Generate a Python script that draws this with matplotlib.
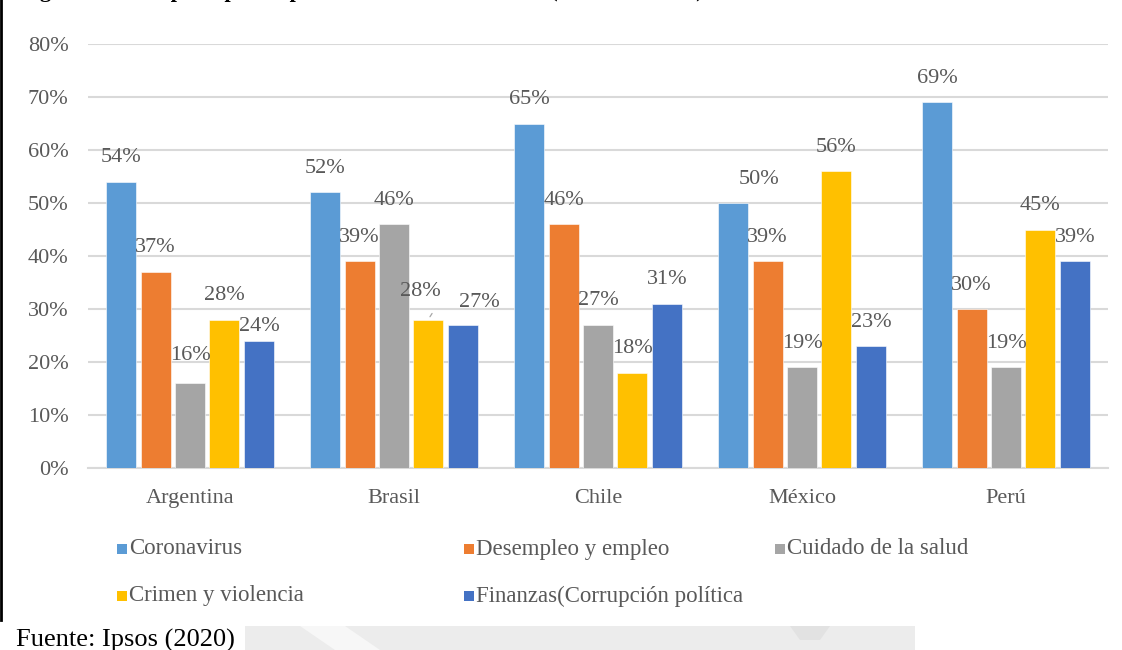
import matplotlib.pyplot as plt
import numpy as np
from matplotlib.patches import Rectangle, Polygon

plt.rcParams['font.family'] = ['Liberation Serif', 'DejaVu Serif']

# Datos por país (porcentaje de menciones)
paises = ['Argentina', 'Brasil', 'Chile', 'México', 'Perú']
series = ['Coronavirus', 'Desempleo y empleo', 'Cuidado de la salud',
          'Crimen y violencia', 'Finanzas(Corrupción política']
coronavirus = [54, 52, 65, 50, 69]
desempleo = [37, 39, 46, 39, 30]
salud = [16, 46, 27, 19, 19]
crimen = [28, 28, 18, 56, 45]
finanzas = [24, 27, 31, 23, 39]
valores = [coronavirus, desempleo, salud, crimen, finanzas]
colores = ['#5B9BD5', '#ED7D31', '#A5A5A5', '#FFC000', '#4472C4']

gris = '#595959'
W, H = 1122, 650

fig = plt.figure(figsize=(W / 100, H / 100), dpi=100)
ax = fig.add_axes([88 / W, 182 / H, 1020 / W, 424 / H])

x = np.arange(len(paises))
ancho = 0.147
paso = 0.169

# ajustes de etiquetas (px) donde Excel las desplazó
ajuste = {(1, 4): (16, -2), (1, 3): (-8, 4), (0, 4): (0, -10), (0, 2): (0, 4),
          (3, 0): (26, 0)}

for i, (serie, vals) in enumerate(zip(series, valores)):
    pos = x + (i - 2) * paso
    ax.bar(pos, np.array(vals) / 100, width=ancho, color=colores[i],
           edgecolor='white', linewidth=0.4, zorder=3)
    for j, v in enumerate(vals):
        dx, dy = ajuste.get((j, i), (0, 0))
        ax.annotate(f'{v}%', (pos[j], v / 100), xytext=(dx * 0.72, (24 + dy) * 0.72),
                    textcoords='offset points', ha='center', va='center',
                    fontsize=16, color=gris, zorder=4)
        if (j, i) == (1, 3):
            # línea guía de la etiqueta desplazada
            ax.annotate('', (pos[j], v / 100 + 0.001),
                        xytext=(pos[j] + 0.025, v / 100 + 0.016),
                        arrowprops=dict(arrowstyle='-', color='#a6a6a6', lw=0.9))

ax.set_xlim(-0.5, 4.5)
ax.set_ylim(0, 0.8)
ax.set_yticks(np.arange(0, 0.81, 0.1))
ax.set_yticklabels([f'{int(round(t * 100))}%' for t in np.arange(0, 0.81, 0.1)])
ax.set_xticks(x)
ax.set_xticklabels(paises)
ax.tick_params(axis='y', length=0, pad=14, labelsize=16, labelcolor=gris)
ax.tick_params(axis='x', length=0, pad=15, labelsize=16, labelcolor=gris)
ax.grid(axis='y', color='#d9d9d9', linewidth=1.5, zorder=0)
for lado in ['top', 'right', 'left']:
    ax.spines[lado].set_visible(False)
ax.spines['bottom'].set_color('#d9d9d9')
ax.spines['bottom'].set_linewidth(1.5)

# leyenda dibujada a mano en dos filas
cols_x = [117, 464, 775]
filas_y = [549, 596]
for k, serie in enumerate(series):
    cx = cols_x[k % 3]
    cy = filas_y[k // 3]
    fig.add_artist(Rectangle((cx / W, 1 - (cy + 5) / H), 10 / W, 10 / H,
                             transform=fig.transFigure, color=colores[k], lw=0))
    fig.text((cx + 12) / W, 1 - cy / H, serie, fontsize=16.5, color=gris,
             ha='left', va='center')

# marca de agua al pie
fig.add_artist(Rectangle((245 / W, 0), 670 / W, 24 / H, transform=fig.transFigure,
                         color='#ececec', lw=0, zorder=0))
fig.add_artist(Polygon([(300 / W, 24 / H), (345 / W, 24 / H), (380 / W, 0), (335 / W, 0)],
                       closed=True, transform=fig.transFigure, color='#f7f7f7', lw=0, zorder=0))
fig.add_artist(Polygon([(790 / W, 24 / H), (830 / W, 24 / H), (820 / W, 10 / H), (800 / W, 10 / H)],
                       closed=True, transform=fig.transFigure, color='#e2e2e2', lw=0, zorder=0))

# borde izquierdo del recuadro
fig.add_artist(plt.Line2D([1 / W, 1 / W], [1, 1 - 620 / H], transform=fig.transFigure,
                          color='black', lw=2))

fig.text(16 / W, 1 - 647 / H, 'Fuente: Ipsos (2020)', fontsize=19, color='black',
         ha='left', va='baseline')
fig.text(20 / W, 1 + 2.5 / H,
         'Figura 3. Principales preocupaciones en Latinoamérica (marzo de 2020)',
         fontsize=16, fontweight='bold', color='black', ha='left', va='baseline')

fig.savefig('out.png', dpi=100)
